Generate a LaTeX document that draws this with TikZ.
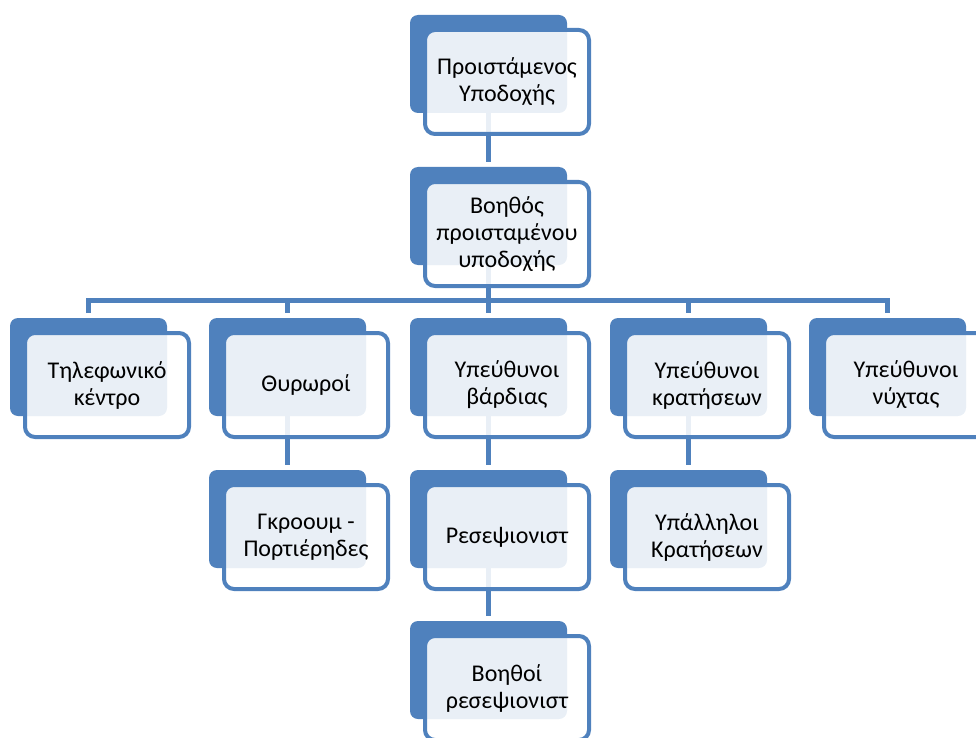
\documentclass[tikz,border=0pt]{standalone}
\usepackage{fontspec}
\setmainfont{Carlito}
\definecolor{accent}{HTML}{4F81BD}
\pgfdeclarelayer{bg}
\pgfsetlayers{bg,main}
\tikzset{
  backbox/.style={fill=accent, rounded corners=8pt, minimum width=157pt, minimum height=98pt, inner sep=0pt, outer sep=0pt, anchor=north west},
  frontbox/.style={draw=accent, line width=4pt, fill=white, fill opacity=0.88, text opacity=1, rounded corners=10pt, minimum width=164pt, minimum height=104pt, inner sep=0pt, outer sep=0pt, align=center, font=\fontsize{24}{27}\selectfont},
  conn/.style={draw=accent, line width=5pt},
}
\newcommand{\orgbox}[4]{%
  \node[backbox] (b#1) at (#2,#3) {};
  \node[frontbox] (f#1) at (#2+97,#3+67) {#4};
}
\begin{document}
\begin{tikzpicture}[x=1pt,y=-1pt]
\useasboundingbox (0,0) rectangle (976,738);
\clip (0,0) rectangle (976,738);
\coordinate (bus) at (0,300);
\orgbox{1}{410}{15}{Προιστάμενος\\Υποδοχής}
\orgbox{2}{410}{167}{Βοηθός\\προισταμένου\\υποδοχής}
\orgbox{3a}{10}{318}{Τηλεφωνικό\\κέντρο}
\orgbox{3b}{209}{318}{Θυρωροί}
\orgbox{3c}{410}{318}{Υπεύθυνοι\\βάρδιας}
\orgbox{3d}{610}{318}{Υπεύθυνοι\\κρατήσεων}
\orgbox{3e}{809}{318}{Υπεύθυνοι\\νύχτας}
\orgbox{4b}{209}{470}{Γκροουμ -\\Πορτιέρηδες}
\orgbox{4c}{410}{470}{Ρεσεψιονιστ}
\orgbox{4d}{610}{470}{Υπάλληλοι\\Κρατήσεων}
\orgbox{5c}{410}{621}{Βοηθοί\\ρεσεψιονιστ}
\begin{pgfonlayer}{bg}
\draw[conn, shorten >=5pt] (b1.south) -- (b2.north);
\draw[conn] (b2.south) -- (b2.south |- bus);
\draw[conn, shorten <=5pt, shorten >=5pt] (b3a.north) -- (b3a.north |- bus) -- (b3e.north |- bus) -- (b3e.north);
\draw[conn, shorten >=5pt] (b3b.north |- bus) -- (b3b.north);
\draw[conn, shorten >=5pt] (b3c.north |- bus) -- (b3c.north);
\draw[conn, shorten >=5pt] (b3d.north |- bus) -- (b3d.north);
\draw[conn, shorten >=5pt] (b3b.south) -- (b4b.north);
\draw[conn, shorten >=5pt] (b3c.south) -- (b4c.north);
\draw[conn, shorten >=5pt] (b3d.south) -- (b4d.north);
\draw[conn, shorten >=5pt] (b4c.south) -- (b5c.north);
\end{pgfonlayer}
\end{tikzpicture}
\end{document}
